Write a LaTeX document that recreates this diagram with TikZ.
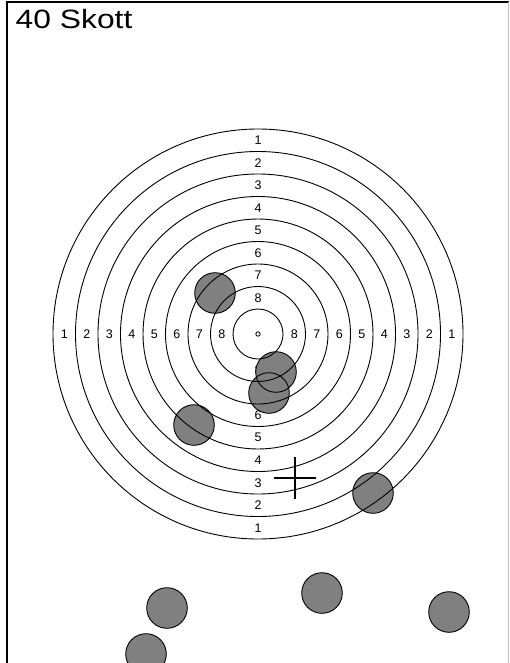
\documentclass[tikz,border=0pt]{standalone}
\usepackage{fontspec}
\setmainfont{Liberation Sans}
\usetikzlibrary{calc}
\begin{document}
\begin{tikzpicture}[x=1pt,y=-1pt,
  ring/.style={draw=black,line width=0.9pt},
  num/.style={font=\fontsize{12.5}{12.5}\selectfont,inner sep=0pt},
  shotfill/.style={fill=black!50,draw=none},
  shotline/.style={draw=black,line width=0.9pt}]
\useasboundingbox (0,0) rectangle (509,663);
\clip (0,0) rectangle (509,663);
% frame
\draw[line width=1.6pt] (7,663) -- (7,2) -- (509,2);
\draw[black!25,line width=0.8pt] (508,2) -- (508,663);
% title
\node[anchor=base west,inner sep=0pt,font=\fontsize{26.5}{26.5}\selectfont,xscale=1.2] (title) at (15.5,28.5) {40 Skott};
% center
\coordinate (c) at (258,334);
% labels
\foreach \k in {1,...,8}{
  \pgfmathsetmacro{\d}{205-22.5*\k+11.25}
  \node[num] (l\k t) at ($(c)+(0,-\d)$) {\k};
  \node[num] (l\k b) at ($(c)+(0,\d)$) {\k};
  \node[num] (l\k l) at ($(c)+(-\d,0)$) {\k};
  \node[num] (l\k r) at ($(c)+(\d,0)$) {\k};
}
% shots fills
\foreach \n/\x/\y in {s1/215/293, s2/276/372, s3/269/393, s4/194/425, s5/373/493, s6/167/608, s7/322/593, s8/449/612, s9/146/654}{
  \fill[shotfill] (\x,\y) circle (20.3);
}
% rings
\foreach \k in {0,...,8}{
  \pgfmathsetmacro{\r}{25+22.5*\k}
  \draw[ring] (c) circle (\r);
}
\draw[line width=0.8pt] (c) circle (2.2);
% shot outlines
\foreach \n/\x/\y in {s1/215/293, s2/276/372, s3/269/393, s4/194/425, s5/373/493, s6/167/608, s7/322/593, s8/449/612, s9/146/654}{
  \draw[shotline] (\x,\y) circle (20.3);
}
% cross
\coordinate (x) at (294.5,477.5);
\draw[line width=2pt] ($(x)+(-21,0)$) -- ($(x)+(21,0)$);
\draw[line width=2pt] ($(x)+(0,-21)$) -- ($(x)+(0,21)$);
\end{tikzpicture}
\end{document}
